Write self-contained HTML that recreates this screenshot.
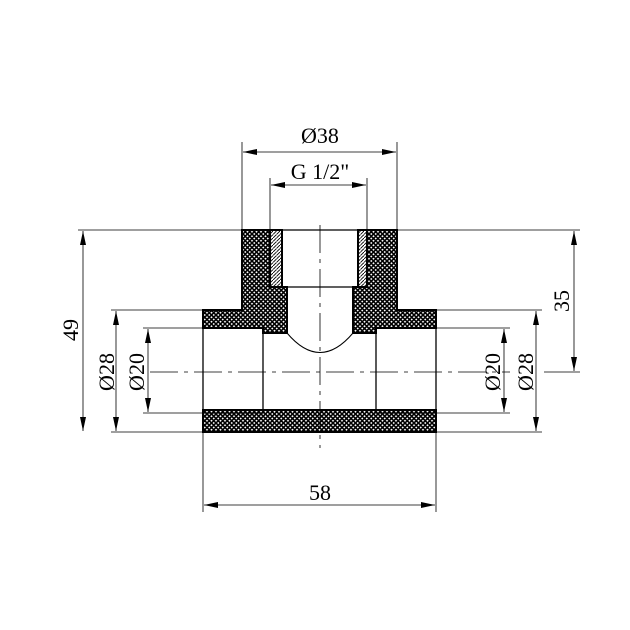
<!DOCTYPE html>
<html><head><style>body{margin:0;background:#fff}svg{display:block}</style></head><body>
<svg width="630" height="630" viewBox="0 0 630 630" xmlns="http://www.w3.org/2000/svg" font-family="Liberation Serif, serif">
<defs>
<pattern id="x" width="4.5" height="4.5" patternUnits="userSpaceOnUse">
<rect width="4.5" height="4.5" fill="#fff"/>
<path d="M0 0L4.5 4.5M4.5 0L0 4.5M-1 3.5L1 5.5M3.5 -1L5.5 1M3.5 5.5L5.5 3.5M-1 1L1 -1" stroke="#000" stroke-width="1.6"/>
</pattern>
<pattern id="t" width="3.5" height="3.5" patternUnits="userSpaceOnUse">
<rect width="3.5" height="3.5" fill="#fff"/>
<path d="M0 3.5L3.5 0" stroke="#000" stroke-width="0.9"/>
</pattern>
</defs>
<g stroke="#000" stroke-width="2">
<path d="M242 230H270V287H287V333H263V328H203V310H242Z" fill="url(#x)"/>
<path d="M397 230H367V287H353V333H376V328H436V310H397Z" fill="url(#x)"/>
<rect x="203" y="410" width="233" height="22" fill="url(#x)"/>
<rect x="270" y="230" width="12" height="57" fill="url(#t)"/>
<rect x="358" y="230" width="9" height="57" fill="url(#t)"/>
</g>
<g stroke="#000" stroke-width="1.3" fill="none">
<path d="M203 328V413H263V410M436 328V413H376V410M263 333V410M376 333V410M282 230H358M282 287H358"/>
</g>
<path d="M287 333Q320 372 353 333" fill="none" stroke="#000" stroke-width="1"/>
<g stroke="#000" stroke-width="0.8" fill="none">
<path d="M150 372H510" stroke-dasharray="28 6 4 6"/>
<path d="M320 225V448" stroke-dasharray="28 6 4 6"/>
<path d="M242 230V142M397 230V142M270 230V178M367 230V178"/>
<path d="M78 230H242M397 230H580M544 372H580"/>
<path d="M111 310H203M143 328H203M111 432H203M143 413H203"/>
<path d="M436 310H542M436 328H510M436 413H510M436 432H542"/>
<path d="M203 432V512M436 432V512"/>
<path d="M243 152H396M271 185H366M204 505H435"/>
<path d="M83 231V431M116 311V431M148 329V412M504 329V412M536 311V431M574 231V371"/>
</g>
<g fill="#000">
<path d="M243 152l14 -3v6z"/><path d="M396 152l-14 -3v6z"/>
<path d="M271 185l14 -3v6z"/><path d="M366 185l-14 -3v6z"/>
<path d="M204 505l14 -3v6z"/><path d="M435 505l-14 -3v6z"/>
<path d="M83 231l-3 14h6z"/><path d="M83 431l-3 -14h6z"/>
<path d="M116 311l-3 14h6z"/><path d="M116 431l-3 -14h6z"/>
<path d="M148 329l-3 14h6z"/><path d="M148 412l-3 -14h6z"/>
<path d="M504 329l-3 14h6z"/><path d="M504 412l-3 -14h6z"/>
<path d="M536 311l-3 14h6z"/><path d="M536 431l-3 -14h6z"/>
<path d="M574 231l-3 14h6z"/><path d="M574 371l-3 -14h6z"/>
</g>
<g font-size="22" text-anchor="middle" fill="#000">
<text x="320" y="143">Ø38</text>
<text x="320" y="179">G 1/2"</text>
<text x="320" y="500">58</text>
<text transform="translate(78,330) rotate(-90)">49</text>
<text transform="translate(114,372) rotate(-90)">Ø28</text>
<text transform="translate(144,372) rotate(-90)">Ø20</text>
<text transform="translate(500,372) rotate(-90)">Ø20</text>
<text transform="translate(533,372) rotate(-90)">Ø28</text>
<text transform="translate(569,301) rotate(-90)">35</text>
</g>
</svg>
</body></html>
